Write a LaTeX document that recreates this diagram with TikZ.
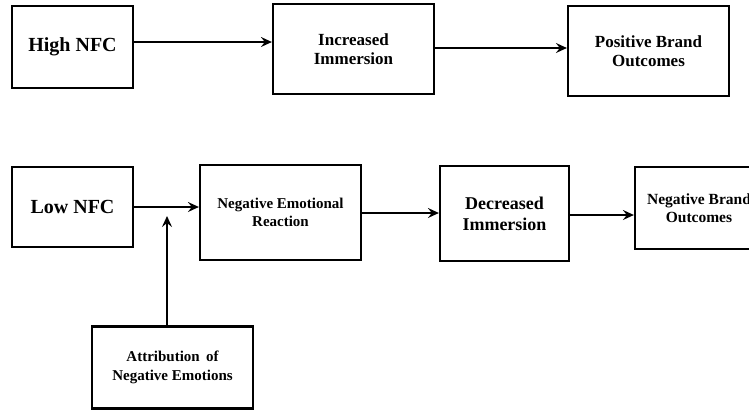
\documentclass[tikz,border=0pt]{standalone}
\usepackage{fontspec}
\setmainfont{Liberation Serif}
\usetikzlibrary{arrows.meta}
\begin{document}
\begin{tikzpicture}[x=1pt,y=-1pt,
  box/.style={draw,line width=2.2pt,inner sep=0pt,align=center,font=\bfseries},
  big/.style={font=\bfseries\fontsize{20}{22}\selectfont},
  mid/.style={font=\bfseries\fontsize{17}{19.5}\selectfont},
  sml/.style={font=\bfseries\fontsize{15}{18.5}\selectfont},
  arr/.style={line width=1.8pt,-{Stealth[length=11pt,width=10pt,inset=4pt]}}]
\useasboundingbox (0,0) rectangle (749,410);
\clip (0,0) rectangle (749,410);
\node[box,big,minimum width=121pt,minimum height=82pt] (hi) at (72.5,47) {High NFC};
\node[box,mid,minimum width=161pt,minimum height=90pt] (inc) at (353.5,49) {Increased\\Immersion};
\node[box,mid,minimum width=161pt,minimum height=90pt] (pos) at (648.5,51) {Positive Brand\\Outcomes};
\node[box,big,minimum width=121pt,minimum height=80pt] (low) at (72.5,207) {Low NFC};
\node[box,sml,minimum width=161pt,minimum height=95pt] (ner) at (280.5,212.5) {Negative Emotional\\Reaction};
\node[box,font=\bfseries\fontsize{18}{21}\selectfont,minimum width=129pt,minimum height=95pt] (dec) at (504.5,213.5) {Decreased\\Immersion};
\node[box,font=\bfseries\fontsize{15.5}{18}\selectfont,minimum width=128pt,minimum height=82pt] (nbo) at (699,208) {Negative Brand\\Outcomes};
\node[box,sml,minimum width=161pt,minimum height=82pt] (att) at (172.5,367.5) {Attribution\, of\\Negative Emotions};
\coordinate (a1) at (133,42);
\coordinate (a2) at (434,48);
\coordinate (vt) at (167,216);
\draw[arr] (a1) -- (a1 -| inc.west);
\draw[arr] (a2) -- (a2 -| pos.west);
\draw[arr] (low.east) -- (low.east -| ner.west);
\draw[arr] ([yshift=-0.5pt]ner.east) -- ([yshift=-0.5pt]ner.east -| dec.west);
\draw[arr] ([yshift=-1.5pt]dec.east) -- ([yshift=-1.5pt]dec.east -| nbo.west);
\draw[arr] (vt |- att.north) -- (vt);
\end{tikzpicture}
\end{document}
